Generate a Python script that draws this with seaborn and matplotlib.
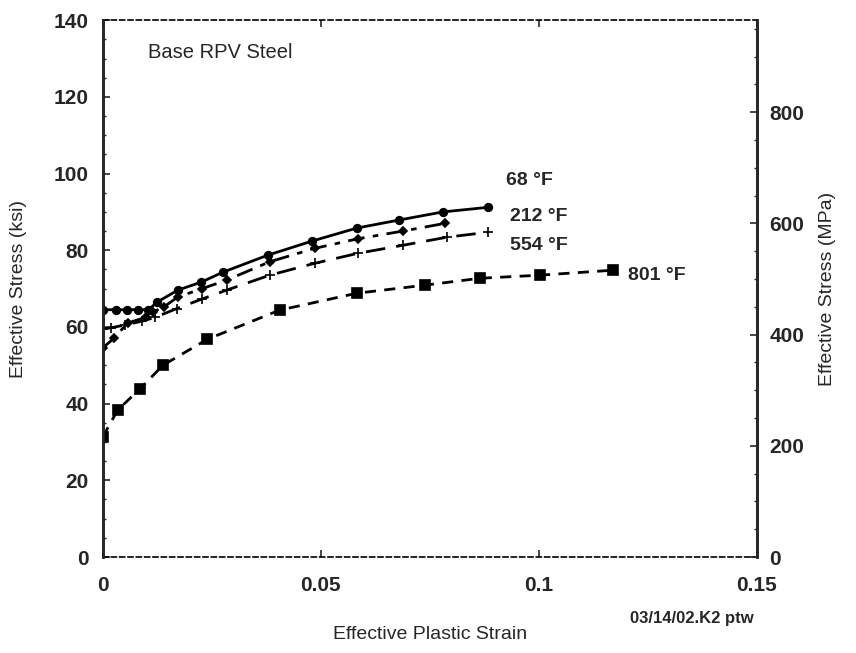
import matplotlib
matplotlib.use("Agg")
import matplotlib.pyplot as plt
from matplotlib.ticker import MultipleLocator
import seaborn as sns
import pandas as pd

sns.set_theme(style="white")
plt.rcParams['font.family'] = ['Liberation Sans', 'DejaVu Sans']

# Data (strain, ksi)
strain_68 = [0, 0.003, 0.0055, 0.008, 0.0105, 0.0125, 0.0172, 0.0226, 0.0276, 0.0378, 0.048, 0.0583, 0.068, 0.078, 0.0883]
stress_68 = [64.5, 64.5, 64.5, 64.5, 64.5, 66.5, 69.6, 71.7, 74.3, 78.7, 82.4, 85.8, 87.9, 90.0, 91.2]

strain_212 = [0, 0.0025, 0.0057, 0.010, 0.0115, 0.014, 0.0172, 0.0228, 0.0284, 0.0383, 0.0486, 0.0585, 0.0688, 0.0784]
stress_212 = [54.5, 57.0, 61.0, 62.6, 63.9, 65.2, 67.8, 70.0, 72.2, 77.0, 80.5, 83.0, 85.0, 87.0]

strain_554 = [0, 0.002, 0.005, 0.009, 0.012, 0.017, 0.0228, 0.0284, 0.0383, 0.0486, 0.0585, 0.0688, 0.0789, 0.0883]
stress_554 = [59.5, 59.8, 60.5, 61.5, 62.5, 64.8, 67.3, 69.6, 73.5, 76.6, 79.2, 81.3, 83.4, 84.7]

strain_801 = [0, 0.0034, 0.0085, 0.0138, 0.024, 0.0406, 0.0583, 0.0739, 0.0865, 0.1002, 0.117]
stress_801 = [31.3, 38.3, 43.8, 50.0, 56.8, 64.4, 68.8, 70.9, 72.7, 73.5, 74.8]

labels = ["68 °F", "212 °F", "554 °F", "801 °F"]
label_x = [0.0925, 0.0935, 0.0935, 0.1205]
label_y = [98.3, 88.9, 81.3, 73.5]

fig = plt.figure(figsize=(8.56, 6.53), dpi=100)
ax = fig.add_axes([0.120, 0.147, 0.764, 0.822])

series = [
    (strain_68, stress_68, '-', 'o', 5.5),
    (strain_212, stress_212, (0, (6, 3, 2, 3)), 'D', 4),
    (strain_554, stress_554, (0, (7, 4)), '+', 7),
    (strain_801, stress_801, (0, (4, 3)), 's', 6.5),
]
for xs, ys, ls, mk, ms in series:
    df = pd.DataFrame({'x': xs, 'y': ys})
    sns.lineplot(data=df, x='x', y='y', ax=ax, color='black', linestyle=ls,
                 linewidth=2.0, marker=mk, markersize=ms, markeredgecolor='black',
                 markerfacecolor='black', markeredgewidth=1.2, sort=False)

for t, x, y in zip(labels, label_x, label_y):
    ax.text(x, y, t, fontsize=14, fontweight='bold', va='center', ha='left')

ax.text(0.0105, 131.5, "Base RPV Steel", fontsize=14.5, va='center', ha='left')

ax.set_xlim(0, 0.15)
ax.set_ylim(0, 140)
ax.set_xticks([0, 0.05, 0.1, 0.15])
ax.set_xticklabels(["0", "0.05", "0.1", "0.15"])
ax.set_yticks(range(0, 141, 20))
ax.yaxis.set_minor_locator(MultipleLocator(5))
ax.tick_params(axis='both', labelsize=15, direction='in', length=5, width=1.2)
ax.tick_params(axis='y', which='minor', direction='in', length=2, width=1, left=True)
ax.tick_params(axis='x', pad=14, top=True, bottom=True)
ax.tick_params(axis='y', pad=10, left=True)
for lab in ax.get_xticklabels() + ax.get_yticklabels():
    lab.set_fontweight('bold')

ax.set_xlabel("Effective Plastic Strain", fontsize=14)
ax.xaxis.set_label_coords(0.5, -0.128)
ax.set_ylabel("Effective Stress (ksi)", fontsize=14)
ax.yaxis.set_label_coords(-0.116, 0.5)

for s in ['left', 'right']:
    ax.spines[s].set_linewidth(1.8)
    ax.spines[s].set_color('black')
for s in ['top', 'bottom']:
    ax.spines[s].set_linewidth(1.2)
    ax.spines[s].set_color('black')
    ax.spines[s].set_linestyle((0, (3, 2)))

ax2 = ax.twinx()
ax2.set_ylim(0, 140 * 6.895)
ax2.set_yticks([0, 200, 400, 600, 800])
ax2.yaxis.set_minor_locator(MultipleLocator(50))
ax2.tick_params(axis='y', labelsize=15, direction='in', length=5, width=1.2, pad=9)
ax2.tick_params(axis='y', which='minor', direction='in', length=2, width=1, right=True)
for lab in ax2.get_yticklabels():
    lab.set_fontweight('bold')
ax2.set_ylabel("Effective Stress (MPa)", fontsize=14)
ax2.yaxis.set_label_coords(1.095, 0.5)
for s in ['left', 'right']:
    ax2.spines[s].set_linewidth(1.8)
for s in ['top', 'bottom']:
    ax2.spines[s].set_visible(False)
ax2.grid(False)
ax.grid(False)

fig.text(692 / 856, 1 - 618 / 653, "03/14/02.K2 ptw", fontsize=12, fontweight='bold',
         ha='center', va='center')

fig.savefig("out.png", dpi=100)
